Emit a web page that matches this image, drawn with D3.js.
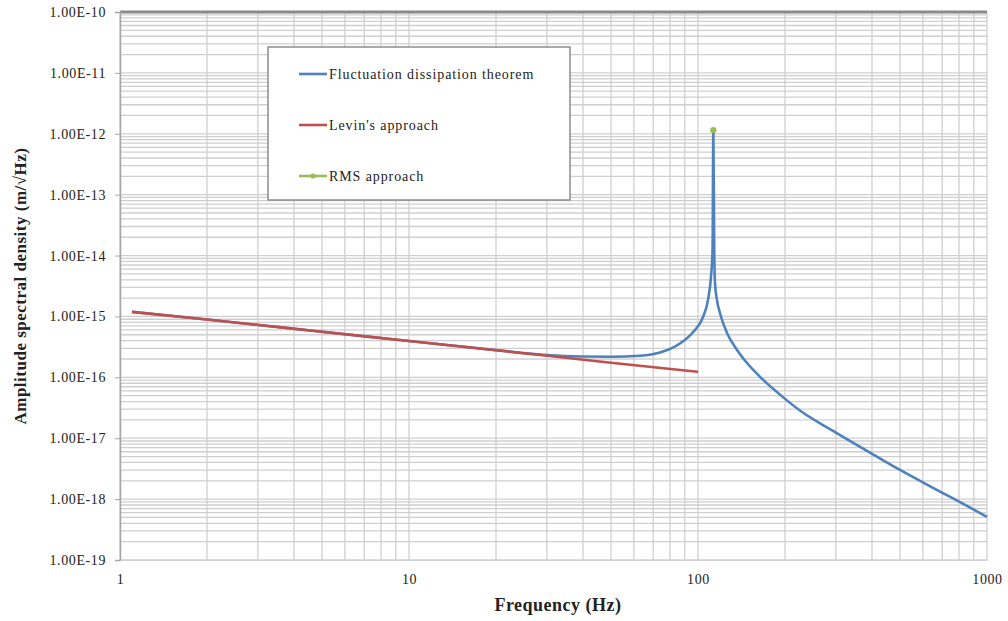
<!DOCTYPE html>
<html>
<head>
<meta charset="utf-8">
<script src="https://cdn.jsdelivr.net/npm/d3@7"></script>
<style>
  body { margin: 0; background: #fff; }
</style>
</head>
<body>
<div id="chart"></div>
<script>
// values: [frequency Hz, amplitude spectral density m/sqrt(Hz)]
var fdtData = [
  [1.1, 1.19e-15], [2, 8.9e-16], [5, 5.6e-16], [10, 3.95e-16], [20, 2.8e-16],
  [30, 2.32e-16], [40, 2.2e-16], [50, 2.18e-16], [63, 2.26e-16], [73.9, 2.55e-16],
  [86.6, 3.6e-16], [96.1, 5.5e-16], [104.1, 9.8e-16], [108.3, 1.87e-15],
  [110.9, 4.46e-15], [112.3, 1.24e-14], [113, 1.15e-12], [113.8, 1.24e-14],
  [114.5, 3.55e-15], [116.3, 1.87e-15], [119.1, 1.14e-15], [126, 5.36e-16],
  [136.5, 2.82e-16], [147.8, 1.72e-16], [163.9, 1.02e-16], [192.2, 5.2e-17],
  [225.3, 2.85e-17], [293.2, 1.32e-17], [384.6, 6.18e-18], [500, 3.01e-18],
  [650.6, 1.53e-18], [852.7, 7.73e-19], [1000, 5.1e-19]
];
var levinData = [
  [1.1, 1.19e-15], [2, 8.9e-16], [5, 5.6e-16], [10, 3.95e-16],
  [20, 2.78e-16], [50, 1.74e-16], [100, 1.23e-16]
];
var rmsData = [[113, 1.15e-12]];

var xTicks = [1, 10, 100, 1000];
var yTicks = [1e-19, 1e-18, 1e-17, 1e-16, 1e-15, 1e-14, 1e-13, 1e-12, 1e-11, 1e-10];
var seriesNames = ["Fluctuation dissipation theorem", "Levin's approach", "RMS approach"];
var seriesColors = ["#4f81bd", "#c0504d", "#9bbb59"];

var serif = "'Liberation Serif', 'Times New Roman', Tinos, 'DejaVu Serif', serif";
var width = 1008, height = 621;
var svg = d3.select("#chart").append("svg")
  .attr("width", width)
  .attr("height", height);

var x = d3.scaleLog().domain([1, 1000]).range([120, 987]);
var y = d3.scaleLog().domain([1e-19, 1e-10]).range([560, 12]);

// minor + major grid lines, every 1..9 of each decade
var xGrid = [], yGrid = [];
for (var d = 0; d < 3; d++)
  for (var m = 1; m < 10; m++) xGrid.push(m * Math.pow(10, d));
xGrid.push(1000);
yTicks.slice(0, -1).forEach(function(t) {
  for (var m = 1; m < 10; m++) yGrid.push(m * t);
});
yGrid.push(1e-10);

var grid = svg.append("g").attr("stroke", "#cfcfcf").attr("stroke-width", 1.3);
grid.selectAll("line.h").data(yGrid).enter().append("line")
  .attr("class", "h")
  .attr("x1", x(1)).attr("x2", x(1000))
  .attr("y1", function(d) { return y(d); })
  .attr("y2", function(d) { return y(d); });
grid.selectAll("line.v").data(xGrid).enter().append("line")
  .attr("class", "v")
  .attr("y1", y(1e-10)).attr("y2", y(1e-19))
  .attr("x1", function(d) { return x(d); })
  .attr("x2", function(d) { return x(d); });

// top border
svg.append("line")
  .attr("x1", x(1)).attr("x2", x(1000))
  .attr("y1", y(1e-10)).attr("y2", y(1e-10))
  .attr("stroke", "#8a8a8a").attr("stroke-width", 3);

// y axis
var yAxis = svg.append("g")
  .attr("transform", "translate(" + x(1) + ",0)")
  .call(d3.axisLeft(y).tickValues(yTicks).tickSize(5).tickPadding(9)
    .tickFormat(function(d) { return "1.00E" + Math.round(Math.log10(d)); }));
yAxis.select(".domain").attr("stroke", "#a6a6a6").attr("stroke-width", 1.5);
yAxis.selectAll(".tick line").attr("stroke", "#a6a6a6");
yAxis.selectAll("text").style("font-size", "14px").style("font-family", serif)
  .style("letter-spacing", "0.6px").attr("fill", "#222");

// x axis
var xAxis = svg.append("g")
  .attr("transform", "translate(0," + y(1e-19) + ")")
  .call(d3.axisBottom(x).tickValues(xTicks).tickSize(0).tickPadding(14)
    .tickFormat(d3.format("d")));
xAxis.select(".domain").attr("stroke", "#d0d0d0");
xAxis.selectAll("text").style("font-size", "14px").style("font-family", serif)
  .style("letter-spacing", "0.6px").attr("fill", "#222");

svg.append("text")
  .attr("x", 558).attr("y", 611)
  .attr("text-anchor", "middle")
  .style("font-family", serif)
  .style("font-size", "18px").style("font-weight", "bold")
  .style("letter-spacing", "0.5px")
  .attr("fill", "#222")
  .text("Frequency (Hz)");

svg.append("text")
  .attr("transform", "translate(26,286) rotate(-90)")
  .attr("text-anchor", "middle")
  .style("font-family", serif)
  .style("font-size", "17px").style("font-weight", "bold")
  .style("letter-spacing", "0.5px")
  .attr("fill", "#222")
  .text("Amplitude spectral density (m/\u221AHz)");

var line = d3.line()
  .x(function(d) { return x(d[0]); })
  .y(function(d) { return y(d[1]); })
  .curve(d3.curveMonotoneX);

svg.append("path").datum(fdtData)
  .attr("d", line)
  .attr("fill", "none")
  .attr("stroke", seriesColors[0])
  .attr("stroke-width", 2.6);

svg.append("path").datum(levinData)
  .attr("d", line)
  .attr("fill", "none")
  .attr("stroke", seriesColors[1])
  .attr("stroke-width", 2.6);

svg.selectAll("circle.rms").data(rmsData).enter().append("circle")
  .attr("class", "rms")
  .attr("cx", function(d) { return x(d[0]); })
  .attr("cy", function(d) { return y(d[1]); })
  .attr("r", 3.2)
  .attr("fill", seriesColors[2]);

// legend
var legend = svg.append("g");
legend.append("rect")
  .attr("x", 268).attr("y", 47)
  .attr("width", 302).attr("height", 153)
  .attr("fill", "#fff")
  .attr("stroke", "#8c8c8c").attr("stroke-width", 1.5);

var rows = legend.selectAll("g.row").data(seriesNames).enter().append("g")
  .attr("class", "row")
  .attr("transform", function(d, i) { return "translate(299," + (74 + i * 51) + ")"; });
rows.append("line")
  .attr("x1", 0).attr("x2", 28)
  .attr("stroke", function(d, i) { return seriesColors[i]; })
  .attr("stroke-width", 2.6);
rows.filter(function(d, i) { return i === 2; }).append("circle")
  .attr("cx", 14).attr("r", 2.6)
  .attr("fill", seriesColors[2]);
rows.append("text")
  .attr("x", 30).attr("dy", "0.35em")
  .style("font-family", serif)
  .style("font-size", "14px")
  .style("letter-spacing", "0.9px")
  .attr("fill", "#222")
  .text(function(d) { return d; });
</script>
</body>
</html>
